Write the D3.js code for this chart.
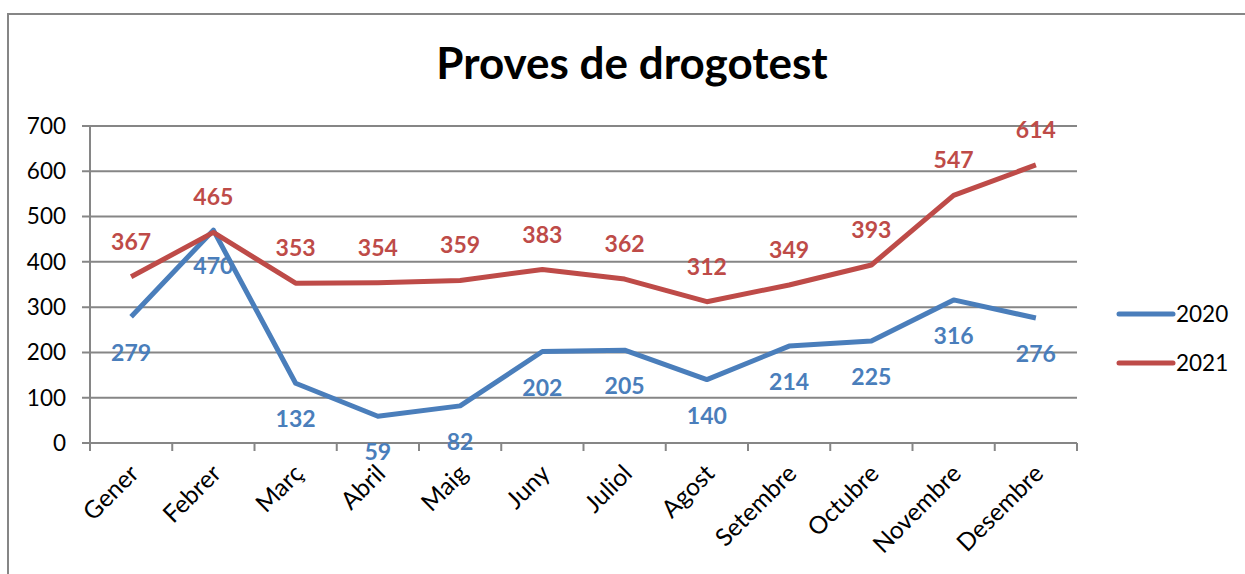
<!DOCTYPE html>
<html><head><meta charset="utf-8">
<script src="https://cdn.jsdelivr.net/npm/d3@7"></script>
<style>body{margin:0;background:#fff}svg{display:block}</style>
</head><body>
<script>
const categories = ["Gener","Febrer","Març","Abril","Maig","Juny","Juliol","Agost","Setembre","Octubre","Novembre","Desembre"];
const values2020 = [279,470,132,59,82,202,205,140,214,225,316,276];
const values2021 = [367,465,353,354,359,383,362,312,349,393,547,614];
const seriesNames = ["2020","2021"];
const yTicks = [0,100,200,300,400,500,600,700];
const title = "Proves de drogotest";

(function(){
const W=1245,H=574;
const font="Lato, 'Open Sans', sans-serif";
const colors=["#4A7EBB","#BE4B48"];
const svg=d3.select("body").append("svg").attr("width",W).attr("height",H);
svg.append("rect").attr("x",8).attr("y",14).attr("width",W).attr("height",H).attr("fill","none").attr("stroke","#868686").attr("stroke-width",2);

const pl=90,pr=1077,pt=126,pb=443;
const x=d3.scaleBand().domain(categories).range([pl,pr]);
const y=d3.scaleLinear().domain([0,700]).range([pb,pt]);
const cx=d=>x(d)+x.bandwidth()/2;

svg.append("g").selectAll("line").data(yTicks).join("line")
  .attr("x1",pl-8).attr("x2",pr).attr("y1",d=>y(d)).attr("y2",d=>y(d))
  .attr("stroke","#868686").attr("stroke-width",2);
svg.append("line").attr("x1",pl).attr("x2",pl).attr("y1",pt).attr("y2",pb+8).attr("stroke","#868686").attr("stroke-width",2);
const xt=categories.map(c=>x(c)).concat([pr]);
svg.append("g").selectAll("line").data(xt).join("line")
  .attr("x1",d=>d).attr("x2",d=>d).attr("y1",pb).attr("y2",pb+8)
  .attr("stroke","#868686").attr("stroke-width",2);
svg.append("g").selectAll("text").data(yTicks).join("text")
  .attr("x",66).attr("y",d=>y(d)).attr("dy","0.35em").attr("text-anchor","end")
  .attr("font-family",font).attr("font-size",22.5).attr("fill","#000").text(d=>d);
svg.append("g").selectAll("text").data(categories).join("text")
  .attr("transform",d=>`translate(${cx(d)+3},${pb+26}) rotate(-45)`)
  .attr("text-anchor","end").attr("dy","0.35em")
  .attr("font-family",font).attr("font-size",24.5).attr("fill","#000").text(d=>d);
svg.append("text").attr("x",632).attr("y",79).attr("text-anchor","middle")
  .attr("font-family",font).attr("font-weight","bold").attr("font-size",44).text(title);

const line=d3.line().x((d,i)=>cx(categories[i])).y(d=>y(d));
[values2020,values2021].forEach((vals,si)=>{
  svg.append("path").datum(vals).attr("d",line).attr("fill","none")
    .attr("stroke",colors[si]).attr("stroke-width",5).attr("stroke-linejoin","round");
});
svg.append("g").selectAll("text").data(values2020).join("text")
  .attr("x",(d,i)=>cx(categories[i])).attr("y",d=>y(d)+36).attr("dy","0.35em")
  .attr("text-anchor","middle").attr("font-family",font).attr("font-weight","bold")
  .attr("font-size",23).attr("fill",colors[0]).text(d=>d);
svg.append("g").selectAll("text").data(values2021).join("text")
  .attr("x",(d,i)=>cx(categories[i])).attr("y",d=>y(d)-35).attr("dy","0.35em")
  .attr("text-anchor","middle").attr("font-family",font).attr("font-weight","bold")
  .attr("font-size",23).attr("fill",colors[1]).text(d=>d);
seriesNames.forEach((n,i)=>{
  const ly=314+i*49;
  svg.append("line").attr("x1",1119).attr("x2",1173).attr("y1",ly).attr("y2",ly)
    .attr("stroke",colors[i]).attr("stroke-width",5).attr("stroke-linecap","round");
  svg.append("text").attr("x",1176).attr("y",ly).attr("dy","0.35em")
    .attr("font-family",font).attr("font-size",22.5).text(n);
});
})();
</script>
</body></html>
